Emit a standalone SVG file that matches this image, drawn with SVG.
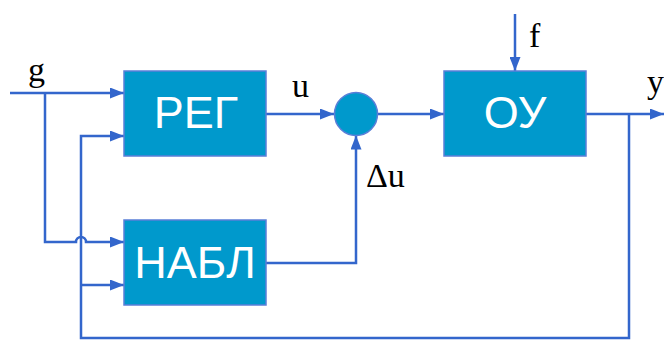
<svg xmlns="http://www.w3.org/2000/svg" width="664" height="341" viewBox="0 0 664 341">
  <style>
    .block { fill: #0099CC; stroke: #5A7FD8; stroke-width: 1.5; }
    .btext { fill: #FFFFFF; font-family: "Liberation Sans", Arial, sans-serif; font-size: 45px; text-anchor: middle; }
    .wire { fill: none; stroke: #3366CC; stroke-width: 2.5; }
    .lbl { fill: #000000; font-family: "Liberation Serif", "Times New Roman", serif; font-size: 34px; }
  </style>
  <defs>
    <marker id="arrow" viewBox="0 0 14 11" refX="14" refY="5.5" markerWidth="14" markerHeight="11" markerUnits="userSpaceOnUse" orient="auto">
      <path d="M0,0 L14,5.5 L0,11 Z" fill="#3366CC"/>
    </marker>
  </defs>

  <rect width="664" height="341" fill="#FFFFFF"/>

  <g id="connectors">
    <!-- input g into РЕГ -->
    <path class="wire" d="M10,93 H124" marker-end="url(#arrow)"/>
    <!-- g branch down into НАБЛ, hopping over the feedback line -->
    <path class="wire" d="M45,93 V242 H76 A5,5 0 0 1 86,242 H124" marker-end="url(#arrow)"/>
    <!-- feedback y into РЕГ and НАБЛ -->
    <path class="wire" d="M629,114 V338 H81 V136 H124" marker-end="url(#arrow)"/>
    <path class="wire" d="M81,285 H124" marker-end="url(#arrow)"/>
    <!-- u to summing junction -->
    <path class="wire" d="M266,114 H334" marker-end="url(#arrow)"/>
    <!-- Δu from НАБЛ to summing junction -->
    <path class="wire" d="M266,263 H356 V135.5" marker-end="url(#arrow)"/>
    <!-- summing junction to ОУ -->
    <path class="wire" d="M377,114 H444" marker-end="url(#arrow)"/>
    <!-- disturbance f -->
    <path class="wire" d="M515,14 V71" marker-end="url(#arrow)"/>
    <!-- output y -->
    <path class="wire" d="M586,114 H664" marker-end="url(#arrow)"/>
  </g>

  <g id="reg">
    <rect class="block" x="124" y="71" width="142" height="85"/>
    <text class="btext" x="196" y="128">РЕГ</text>
  </g>

  <g id="nabl">
    <rect class="block" x="124" y="220" width="142" height="85"/>
    <text class="btext" x="195" y="278">НАБЛ</text>
  </g>

  <g id="ou">
    <rect class="block" x="444" y="71" width="142" height="85"/>
    <text class="btext" x="515" y="128">ОУ</text>
  </g>

  <g id="sum">
    <circle class="block" cx="356" cy="114" r="21.5"/>
  </g>

  <g id="labels">
    <text class="lbl" x="28" y="81">g</text>
    <text class="lbl" x="292" y="97">u</text>
    <text class="lbl" x="366" y="187">Δu</text>
    <text class="lbl" x="529" y="47">f</text>
    <text class="lbl" x="647" y="93">y</text>
  </g>
</svg>
